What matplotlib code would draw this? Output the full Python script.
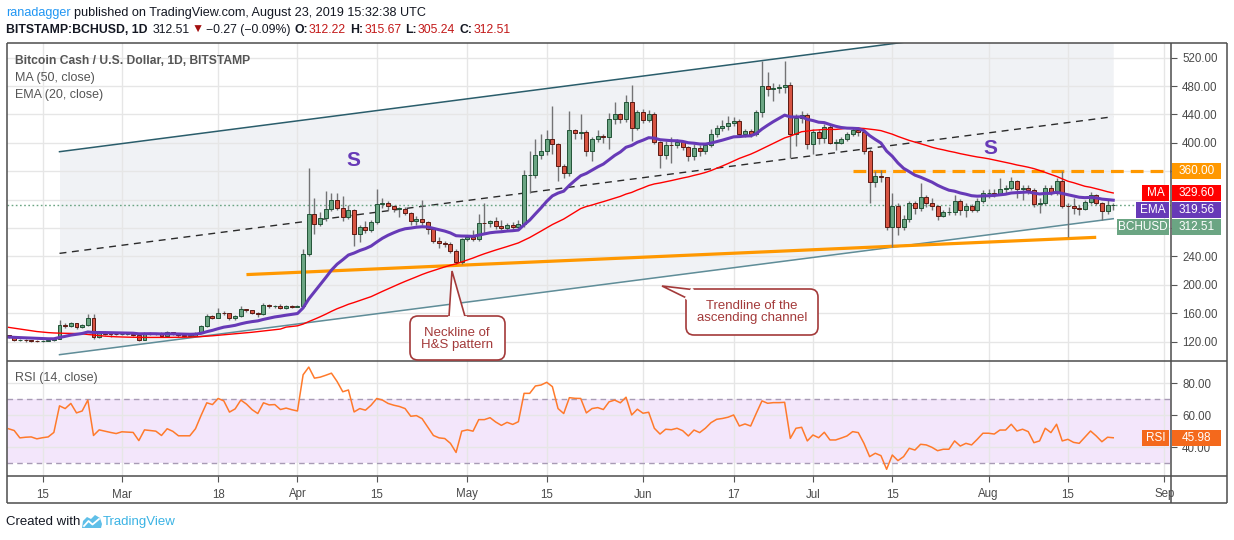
import numpy as np
import pandas as pd
import matplotlib
matplotlib.use("Agg")
import matplotlib.pyplot as plt
import matplotlib.dates as mdates
from matplotlib.patches import FancyBboxPatch, Polygon, Rectangle

plt.rcParams['font.family'] = ['Liberation Sans', 'DejaVu Sans']

# ---- data (BITSTAMP:BCHUSD daily, Feb 9 - Aug 23 2019) ----
dates = pd.date_range("2019-02-09", "2019-08-23", freq="D")
first_open = 129.0

close_feb = [126.5, 122, 122.5, 122, 121.5, 121, 121.5, 122, 124,
             143.5, 142.5, 146, 140.5, 143, 154, 126, 133, 131.5, 131, 130.5]
high_feb = [130, 127, 124, 123.5, 123, 122.5, 123, 123.5, 125,
            150.5, 147, 148, 147, 145, 158.5, 159, 135, 134.5, 133, 133]
low_feb = [125, 121, 120.5, 119, 120, 119.5, 120, 121, 121,
           123.5, 139, 141, 138.5, 139.5, 142, 124, 125.5, 129.5, 127, 129]

close_mar = [131, 131, 130, 123, 132.5, 131.5, 130.5, 128, 133, 131,
             129, 128.5, 128.5, 132.5, 142.5, 156, 154, 161, 160.5, 153,
             156, 165.5, 164, 161, 159, 171.5, 170, 170.5, 167, 170, 169.5]
high_mar = [132.5, 132, 131.5, 130.5, 134, 134, 132.5, 133, 134.5, 133.5,
            131.5, 130, 129.5, 134, 144, 159, 157, 167, 163, 161,
            158, 170, 166.5, 165, 162, 174, 173, 172, 172.5, 171.5, 171]
low_mar = [129.5, 129.5, 128.5, 121.5, 122.5, 130, 129.5, 126.5, 127.5, 129.5,
           127, 127, 127, 127.5, 132, 141, 151.5, 153, 157, 150.5,
           151, 155, 162, 159.5, 155, 158, 168, 168, 165.5, 166, 168]

close_apr = [170.5, 243, 300, 286, 294, 307, 320, 309, 295, 305,
             271.5, 282, 277, 289, 314, 316, 310.5, 307, 307.5, 301,
             289.5, 293, 288, 278.5, 262, 258.5, 258, 248, 232, 264.5]
high_apr = [172, 250, 364, 323, 302, 332, 330, 330, 325, 312,
            307, 285, 290, 292, 335, 323, 318, 312, 310, 310,
            302, 297, 320, 290, 280, 268, 262, 260, 250, 266]
low_apr = [168.5, 169, 240, 271.5, 283, 290, 304, 305, 290, 293,
           255, 260, 273, 274, 286, 308, 305, 302, 295, 298,
           285, 284, 285, 272, 259, 252, 254, 245, 229, 230]

close_may = [268, 264.5, 287.5, 287, 289.5, 283, 280, 285, 281, 285.5,
             354.5, 355, 383, 389, 405, 398, 367, 357.5, 418, 414,
             416, 388, 405, 410, 408, 433.5, 440.5, 433.5, 457, 421, 443]
high_may = [270.5, 278, 300, 316, 292, 295, 292, 287, 288, 292,
            362, 389, 405, 412, 418, 452, 400, 370, 445, 420,
            440, 418, 408, 418, 413, 442, 458, 442, 467, 481, 446]
low_may = [262, 262, 262, 272, 282, 279, 277, 276, 278, 278,
           282, 330, 350, 378, 383, 385, 346, 350, 354, 405,
           405, 381, 375, 401, 400, 392, 427, 428, 430, 403, 418]

close_jun = [432, 440.5, 401, 383, 397.5, 397, 401, 394, 382, 393.5,
             388, 397.5, 412.5, 421, 424, 428, 431, 412.5, 417, 412.5,
             443, 480.5, 476, 478, 478.5, 482, 413, 435, 439.5, 398.5]
high_jun = [448, 447, 443, 402, 402, 408, 406, 402, 396, 398,
            397, 400, 420, 425, 432, 438, 437, 433, 420, 420,
            447, 516, 500, 484, 483, 516, 486, 440, 445, 442]
low_jun = [428, 430, 398, 364.5, 378, 372, 393, 390, 375, 376,
           382, 384, 394, 408, 417, 418, 424, 408, 408, 408,
           410, 437, 466, 459, 470, 470, 378.5, 395, 428, 392]

close_jul = [416, 407, 423, 400, 400.5, 405, 412.5, 418.5, 416, 389,
             344.5, 354, 351.5, 281, 311.5, 282, 292.5, 315, 308, 324,
             316, 311.5, 297.5, 302, 302.5, 318.5, 305.5, 311.5, 305.5, 318.5, 329]
high_jul = [420, 420, 426, 425, 405, 408, 416, 422, 423, 419,
            392, 360, 362, 352, 330, 315, 298, 318, 318, 343.5,
            326, 322, 313, 306, 310, 326, 321, 315, 314, 322, 333]
low_jul = [385, 398, 400, 398, 390, 398, 402, 410, 410, 385,
           316, 338, 345, 278, 253, 270, 278, 288, 300, 304,
           310, 305, 292, 295, 299, 298, 299, 295, 302, 302, 315]

close_aug = [329.5, 328.5, 335, 336, 346, 335, 337, 333.5, 314, 316,
             337, 329, 346, 311.5, 311, 308, 307, 317, 327, 316,
             304.5, 312.22, 312.51]
high_aug = [335, 335, 350, 340, 352, 348, 340, 340, 336, 322,
            340, 340, 350, 360, 316, 322, 312, 320, 331, 328,
            317, 320, 315.67]
low_aug = [322, 324, 326, 330, 333, 322, 320, 328, 310, 300.8,
           313, 326, 327, 308, 268, 300, 298, 305, 314, 312,
           292, 300, 305.24]

# MA(50) before a full 50-day window exists inside the visible range (Feb 9 - Mar 29)
ma_early = [140.2, 139.0, 137.8, 136.5, 135.3, 134.3, 133.5, 132.8, 132.3, 132.0,
            131.8, 131.7, 131.5, 131.0, 130.2, 129.3, 128.5, 127.8, 127.3, 126.9,
            126.6, 126.4, 126.2, 126.1, 126.0, 126.0, 126.0, 126.0, 126.0, 126.1,
            126.2, 126.3, 126.5, 126.8, 127.2, 127.7, 128.3, 129.0, 129.7, 130.4,
            131.1, 131.8, 132.5, 133.3, 134.2, 135.1, 136.0, 136.9, 137.8]

rsi_feb = [51.6, 50.5, 45.9, 46.3, 46.5, 45.3, 46.0, 46.5, 49.3,
           65.9, 64.2, 67.4, 61.5, 62.7, 69.5, 47.4, 50.9, 50.1, 49.3, 48.6]
rsi_mar = [49.7, 49.5, 49.3, 44.2, 50.9, 50.5, 50.1, 47.4, 51.6, 50.0,
           47.2, 47.2, 47.2, 51.6, 60.0, 67.8, 66.7, 70.5, 69.0, 62.0,
           64.0, 69.5, 67.0, 63.5, 61.1, 67.8, 66.5, 66.7, 63.6, 64.5, 63.5]
rsi_apr = [62.7, 85.3, 90.1, 83.2, 83.8, 85.0, 86.3, 81.1, 74.7, 75.8,
           62.1, 64.2, 63.2, 66.3, 70.5, 69.5, 67.4, 66.3, 65.5, 64.2,
           59.4, 59.8, 57.9, 52.6, 47.4, 45.9, 45.5, 42.5, 36.8, 50.1]
rsi_may = [50.9, 50.1, 57.3, 57.3, 58.5, 55.8, 53.7, 55.6, 54.3, 56.0,
           73.7, 73.7, 78.3, 78.9, 80.6, 77.9, 64.2, 61.1, 71.0, 70.6,
           70.5, 61.5, 64.2, 64.8, 63.6, 68.4, 69.5, 67.8, 71.3, 60.2, 63.8]
rsi_jun = [61.3, 61.9, 51.9, 48.3, 51.3, 51.0, 51.9, 50.4, 47.1, 50.8,
           49.2, 51.9, 55.4, 57.5, 58.0, 58.8, 60.2, 53.3, 54.6, 53.3,
           61.3, 69.0, 67.5, 67.9, 67.9, 68.1, 45.6, 51.9, 52.5, 44.0]
rsi_jul = [47.7, 46.0, 49.4, 44.6, 44.6, 45.8, 47.1, 49.8, 49.2, 42.5,
           34.2, 36.3, 34.8, 26.3, 35.2, 31.7, 34.2, 39.4, 38.3, 41.9,
           41.5, 40.0, 37.9, 38.8, 38.8, 44.0, 40.8, 42.5, 41.5, 45.0, 48.8]
rsi_aug = [48.8, 48.3, 50.8, 50.8, 54.4, 50.2, 51.3, 49.8, 42.9, 44.0,
           51.9, 49.2, 54.4, 44.0, 45.0, 43.1, 42.5, 46.3, 50.2, 47.1,
           43.5, 46.3, 45.98]

# drawings on the chart: (date, price) anchors
channel_upper = [("2019-02-18", 387.6), ("2019-08-23", 580.0)]
channel_mid = [("2019-02-18", 244.4), ("2019-08-23", 436.9)]
channel_lower = [("2019-02-18", 101.7), ("2019-08-23", 293.2)]
neckline = [("2019-03-23", 214.5), ("2019-08-20", 267.0)]
resistance_start, resistance_level = "2019-07-08", 360.0

last_price, last_ma, last_ema, last_rsi = 312.51, 329.60, 319.56, 45.98

tick_dates = ["2019-02-15", "2019-03-01", "2019-03-18", "2019-04-01", "2019-04-15",
              "2019-05-01", "2019-05-15", "2019-06-01", "2019-06-17", "2019-07-01",
              "2019-07-15", "2019-08-01", "2019-08-15", "2019-09-01"]
tick_labels = ["15", "Mar", "18", "Apr", "15", "May", "15", "Jun", "17", "Jul",
               "15", "Aug", "15", "Sep"]
price_ticks = [120, 160, 200, 240, 280, 320, 360, 400, 440, 480, 520]
hidden_price_labels = [280, 320, 360]   # covered by the price tags on the axis
rsi_ticks = [40, 60, 80]

close = np.array(close_feb + close_mar + close_apr + close_may + close_jun + close_jul + close_aug)
high = np.array(high_feb + high_mar + high_apr + high_may + high_jun + high_jul + high_aug)
low = np.array(low_feb + low_mar + low_apr + low_may + low_jun + low_jul + low_aug)
rsi = np.array(rsi_feb + rsi_mar + rsi_apr + rsi_may + rsi_jun + rsi_jul + rsi_aug)
assert len(close) == len(dates) == len(high) == len(low) == len(rsi)
open_ = np.concatenate([[first_open], close[:-1]])

ma50 = pd.Series(close).rolling(50).mean().to_numpy()
ma50[:len(ma_early)] = ma_early
ema20 = pd.Series(close).ewm(span=20, adjust=False).mean().to_numpy()

# ---- figure ----
W, H = 1234, 540
fig = plt.figure(figsize=(W / 100, H / 100), dpi=100)


def px_rect(x0, y0, x1, y1):
    return [x0 / W, 1 - y1 / H, (x1 - x0) / W, (y1 - y0) / H]


ax = fig.add_axes(px_rect(7, 43, 1171, 361))
ax_rsi = fig.add_axes(px_rect(7, 361, 1171, 476), sharex=ax)
over = fig.add_axes([0, 0, 1, 1])
over.set_xlim(0, W)
over.set_ylim(H, 0)
over.axis("off")
over.patch.set_alpha(0)

x = mdates.date2num(dates)
d0 = mdates.date2num(pd.Timestamp("2019-02-15"))
ax.set_xlim(d0 - 6.27, d0 + 199.2)
ax.set_ylim(92.8, 540.7)
ax_rsi.set_ylim(22.1, 93.9)

grid_col = "#e6e6e6"
text_col = "#4a4a4a"
for a in (ax, ax_rsi):
    a.set_axisbelow(True)
    a.grid(True, color=grid_col, lw=1)
    for s in a.spines.values():
        s.set_visible(False)
    a.yaxis.tick_right()
    a.tick_params(axis="y", colors="#555555", labelcolor=text_col, labelsize=8.3, length=4, pad=4)
    a.set_xticks(mdates.date2num(pd.to_datetime(tick_dates)))

ax.set_yticks(price_ticks)
ax.set_yticklabels(["" if v in hidden_price_labels else f"{v:.2f}" for v in price_ticks])
ax.tick_params(axis="x", length=0, labelbottom=False)
ax_rsi.set_yticks(rsi_ticks)
ax_rsi.set_yticklabels([f"{v:.2f}" for v in rsi_ticks])
ax_rsi.set_xticklabels(tick_labels)
ax_rsi.tick_params(axis="x", colors="#555555", labelcolor=text_col, labelsize=8.3, length=4, pad=5)


def anchors(pts):
    return mdates.date2num(pd.to_datetime([p[0] for p in pts])), [p[1] for p in pts]


# channel
ux, uy = anchors(channel_upper)
lx, ly = anchors(channel_lower)
mx, my = anchors(channel_mid)
ax.fill_between(ux, uy, ly, color="#f0f2f5", zorder=0.2, lw=0)
ax.plot(ux, uy, color="#2a5d6b", lw=1.1, zorder=2)
ax.plot(lx, ly, color="#5f8d98", lw=1.1, zorder=2)
ax.plot(mx, my, color="#2b2b2b", lw=1.0, ls=(0, (5, 4)), zorder=2)

nx, ny = anchors(neckline)
ax.plot(nx, ny, color="#ff9800", lw=2.3, zorder=2, solid_capstyle="butt")
rs = mdates.date2num(pd.Timestamp(resistance_start))
ax.plot([rs, ax.get_xlim()[1]], [resistance_level] * 2, color="#ff9800", lw=2.3,
        ls=(0, (4, 2.2)), zorder=2)
ax.axhline(last_price, color="#6ba583", lw=1, ls=(0, (1.2, 1.8)), zorder=2)

# candles
up = close >= open_
bottom = np.minimum(open_, close)
body = np.maximum(np.abs(close - open_), 0.6)
ax.vlines(x, low, high, color="#737375", lw=1, zorder=3)
ax.bar(x[up], body[up], bottom=bottom[up], width=0.7, color="#6ba583",
       edgecolor="#225437", lw=0.7, zorder=4)
ax.bar(x[~up], body[~up], bottom=bottom[~up], width=0.7, color="#d75442",
       edgecolor="#5b1a13", lw=0.7, zorder=4)

ax.plot(x, ma50, color="#ff0000", lw=1.0, zorder=5)
ax.plot(x, ema20, color="#673ab7", lw=2.2, zorder=5)

# RSI pane
ax_rsi.axhspan(30, 70, color="#f3e6fb", zorder=0.1, lw=0)
for lvl in (30, 70):
    ax_rsi.axhline(lvl, color="#a89bb5", lw=1, ls=(0, (4, 3)), zorder=1)
ax_rsi.plot(x, rsi, color="#ff7a2b", lw=1.1, zorder=3)

# ---- frame ----
frame_col = "#4d4d4d"
for (x0, y0, x1, y1) in [(7, 43, 1227, 43), (7, 503, 1227, 503), (7, 43, 7, 503),
                         (1227, 43, 1227, 503), (1171, 43, 1171, 503),
                         (7, 361, 1227, 361), (7, 476, 1227, 476)]:
    over.plot([x0, x1], [y0, y1], color=frame_col, lw=1.1, solid_capstyle="butt")


def ypx(a, v):
    return H - a.transData.transform((x[0], v))[1]


def axis_tag(yc, value_txt, color, tag=None, tag_w=0):
    over.add_patch(Rectangle((1172, yc - 8), 49, 16, color=color, lw=0))
    over.text(1196.5, yc, value_txt, color="white", fontsize=8.5, ha="center", va="center")
    if tag:
        over.add_patch(Rectangle((1170 - tag_w, yc - 8), tag_w - 1, 16, color=color, lw=0))
        over.text(1170 - tag_w / 2 - 0.5, yc, tag, color="white", fontsize=8.5,
                  ha="center", va="center")


axis_tag(ypx(ax, resistance_level), f"{resistance_level:.2f}", "#ff9800")
y_ma = ypx(ax, last_ma)
axis_tag(y_ma, f"{last_ma:.2f}", "#ff0000", "MA", 28)
axis_tag(y_ma + 17, f"{last_ema:.2f}", "#673ab7", "EMA", 34)
axis_tag(y_ma + 34, f"{last_price:.2f}", "#6ba583", "BCHUSD", 53)
axis_tag(ypx(ax_rsi, last_rsi), f"{last_rsi:.2f}", "#f4691c", "RSI", 28)

# ---- texts ----
renderer = fig.canvas.get_renderer()


def runs(x0, y, parts, size):
    for s, color, weight, gap in parts:
        t = over.text(x0, y, s, fontsize=size, color=color, fontweight=weight,
                      ha="left", va="center")
        x0 += t.get_window_extent(renderer).width + gap


dark = "#131722"
red = "#c21818"
runs(6, 13, [("ranadagger", "#2196f3", "normal", 3),
             ("published on TradingView.com, August 23, 2019 15:32:38 UTC", dark, "normal", 0)], 9.1)
runs(6, 30, [("BITSTAMP:BCHUSD, 1D", dark, "bold", 5), ("312.51", dark, "normal", 2),
             ("\u25bc", "#a30f0f", "normal", 2), ("\u22120.27 (\u22120.09%)", dark, "normal", 4),
             ("O:", dark, "bold", 1), ("312.22", red, "normal", 4),
             ("H:", dark, "bold", 1), ("315.67", red, "normal", 4),
             ("L:", dark, "bold", 1), ("305.24", red, "normal", 4),
             ("C:", dark, "bold", 1), ("312.51", red, "normal", 0)], 8.8)

leg_col = "#555555"
over.text(15, 61, "Bitcoin Cash / U.S. Dollar, 1D, BITSTAMP", fontsize=8.7, fontweight="bold",
          color=leg_col, va="center")
over.text(15, 78, "MA (50, close)", fontsize=9, color=leg_col, va="center")
over.text(15, 95, "EMA (20, close)", fontsize=9, color=leg_col, va="center")
over.text(15, 378, "RSI (14, close)", fontsize=9, color=leg_col, va="center")

over.text(353, 160, "S", fontsize=15, fontweight="bold", color="#673ab7", ha="center", va="center")
over.text(990, 148, "S", fontsize=15, fontweight="bold", color="#673ab7", ha="center", va="center")

# callouts
call_col = "#a33a3a"


def callout(box, base1, tip, base2, lines, center):
    x0, y0, x1, y1 = box
    over.add_patch(FancyBboxPatch((x0, y0), x1 - x0, y1 - y0,
                                  boxstyle="round,pad=0,rounding_size=8",
                                  fc="white", ec=call_col, lw=1.2, zorder=6))
    over.add_patch(Polygon([base1, tip, base2], closed=False, fc="white", ec=call_col,
                           lw=1.2, zorder=7))
    over.plot([base1[0], base2[0]], [base1[1], base2[1]], color="white", lw=2.0, zorder=8)
    over.text(center[0], center[1], lines, color=call_col, fontsize=9.5, ha="center",
              va="center", linespacing=1.05, zorder=9)


callout((410, 316, 505, 360), (449, 316.5), (452, 271), (465, 316.5),
        "Neckline of\nH&S pattern", (457, 339))
callout((686, 289, 818, 335), (692, 289.5), (662, 286), (686.5, 298),
        "Trendline of the\nascending channel", (752, 312))

# footer
over.text(6, 522, "Created with", fontsize=9.5, color=dark, va="center")
over.add_patch(Polygon([(82, 528), (83, 521), (87, 517), (91, 519), (95, 515), (100, 518),
                        (102, 524), (101, 528)], closed=True, fc="#5fbfe8", ec="none"))
over.plot([84, 88.5, 92.5, 99], [526, 521, 524.5, 519], color="white", lw=1.3)
over.text(103, 522, "TradingView", fontsize=9.5, color="#3bb3e4", va="center")

fig.savefig("out.png", dpi=100)
